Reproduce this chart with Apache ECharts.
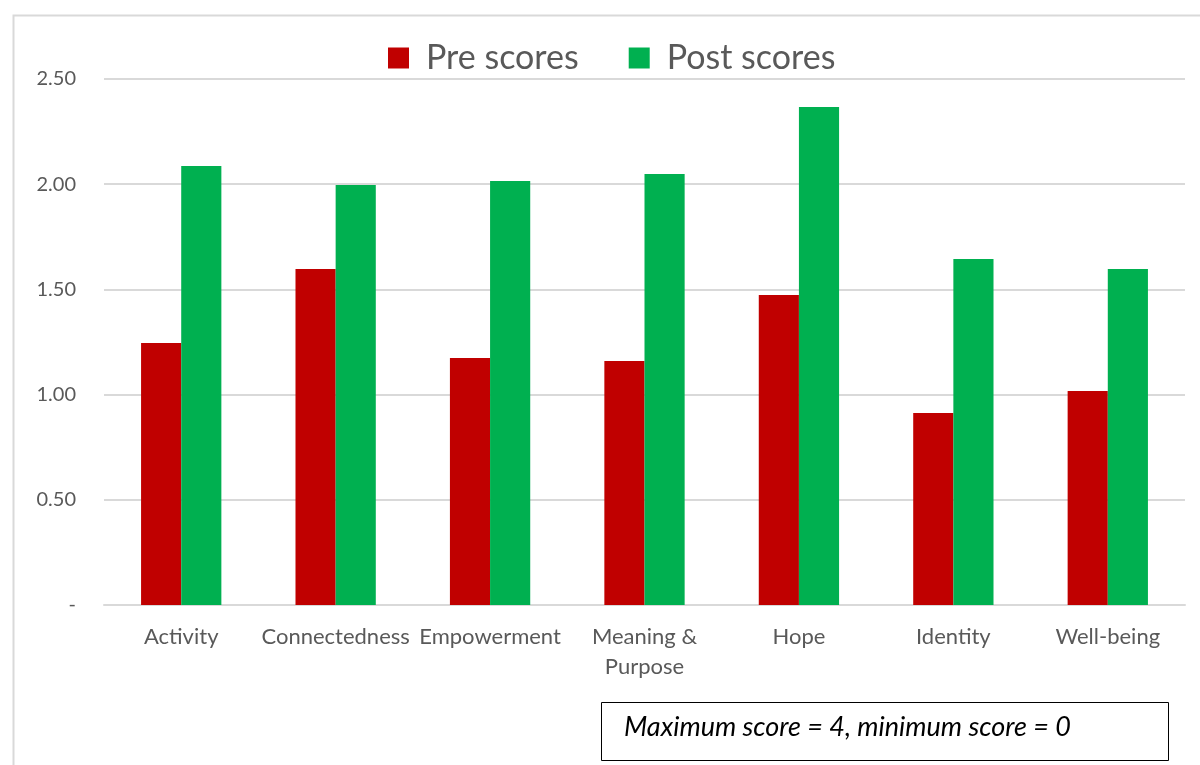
<!DOCTYPE html>
<html>
<head>
<meta charset="utf-8">
<script src="https://cdn.jsdelivr.net/npm/echarts@6/dist/echarts.min.js"></script>
<style>
  html, body { margin: 0; padding: 0; background: #fff; }
  #chart { width: 1200px; height: 765px; }
</style>
</head>
<body>
<div id="chart"></div>
<script>
const categories = ["Activity", "Connectedness", "Empowerment", "Meaning &\nPurpose", "Hope", "Identity", "Well-being"];
const preScores = [1.245, 1.597, 1.174, 1.16, 1.473, 0.913, 1.017];
const postScores = [2.087, 1.996, 2.015, 2.048, 2.367, 1.645, 1.597];
const yTicks = [0, 0.5, 1, 1.5, 2, 2.5];
const yTickLabels = ["-", "0.50", "1.00", "1.50", "2.00", "2.50"];
const noteText = "Maximum score = 4, minimum score = 0";

const font = "Lato, 'Open Sans', sans-serif";
const chart = echarts.init(document.getElementById("chart"));

chart.setOption({
  animation: false,
  textStyle: { fontFamily: font },
  legend: {
    top: 36,
    left: 383,
    itemWidth: 21,
    itemHeight: 21,
    itemGap: 50,
    icon: "rect",
    textStyle: { fontSize: 34, color: "#595959", fontFamily: font, padding: [0, 0, 0, 12] },
    data: ["Pre scores", "Post scores"],
  },
  grid: { left: 104, right: 15, top: 79, bottom: 160 },
  xAxis: {
    type: "category",
    data: categories,
    axisLine: { lineStyle: { color: "#d9d9d9", width: 2 } },
    axisTick: { show: false },
    axisLabel: { fontSize: 22, color: "#595959", margin: 17, lineHeight: 30, interval: 0 },
  },
  yAxis: {
    type: "value",
    min: 0,
    max: 2.5,
    interval: 0.5,
    axisLine: { show: false },
    axisTick: { show: false },
    splitLine: { lineStyle: { color: "#d9d9d9", width: 2 } },
    axisLabel: {
      fontSize: 20,
      color: "#595959",
      margin: 28,
      formatter: v => yTickLabels[yTicks.indexOf(Math.round(v * 10) / 10)],
    },
  },
  series: [
    {
      name: "Pre scores",
      type: "bar",
      data: preScores,
      barGap: "0%",
      barCategoryGap: "48%",
      itemStyle: { color: "#c00000" },
    },
    {
      name: "Post scores",
      type: "bar",
      data: postScores,
      itemStyle: { color: "#00b050" },
    },
  ],
  graphic: [
    {
      type: "rect",
      left: 11,
      top: 13,
      shape: { width: 1250, height: 800 },
      style: { fill: "none", stroke: "#d9d9d9", lineWidth: 2 },
      silent: true,
    },
    {
      type: "rect",
      left: 601,
      top: 702,
      shape: { width: 567, height: 58 },
      style: { fill: "#fff", stroke: "#000", lineWidth: 1 },
    },
    {
      type: "text",
      left: 624,
      top: 714,
      style: {
        text: noteText,
        fontSize: 27,
        fontStyle: "italic",
        fill: "#000",
        fontFamily: font,
      },
    },
  ],
});
</script>
</body>
</html>
